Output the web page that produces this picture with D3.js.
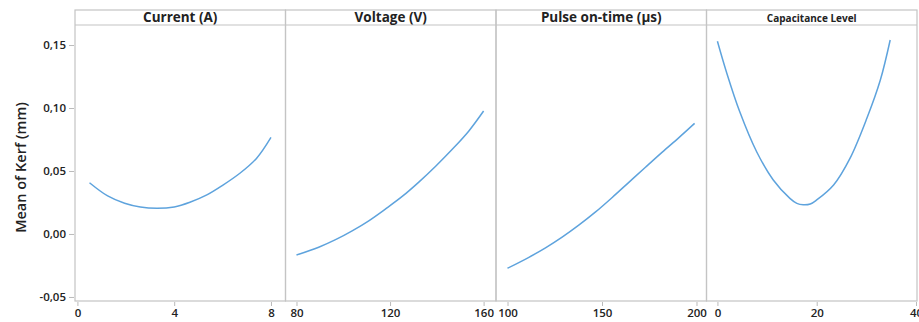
<!DOCTYPE html>
<html>
<head>
<meta charset="utf-8">
<script src="https://cdn.jsdelivr.net/npm/d3@7"></script>
<style>
  body { margin: 0; background: #fff; }
  text { font-family: "Open Sans", "Noto Sans", sans-serif; fill: #222; }
</style>
</head>
<body>
<script>
"use strict" /* dati */
const titoliPannelli = ["Current (A)", "Voltage (V)", "Pulse on-time (µs)", "Capacitance Level"];

const correnteX = [0.5, 1.25, 1.95, 2.6, 3.3, 4.0, 4.65, 5.35, 6.0, 6.7, 7.4, 8.0];
const correnteY = [0.0407, 0.0302, 0.0244, 0.0214, 0.0204, 0.0215, 0.0252, 0.031, 0.0386, 0.048, 0.060, 0.0767];

const tensioneX = [80, 89.5, 96.7, 103.8, 110.9, 118, 125.2, 132.3, 139.5, 146.6, 153.7, 160];
const tensioneY = [-0.0167, -0.0105, -0.0045, 0.0025, 0.0105, 0.0198, 0.0298, 0.0412, 0.0538, 0.0672, 0.0818, 0.0976];

const impulsoX = [100, 111.3, 120.1, 128.9, 137.7, 146.6, 155.4, 164.2, 173, 181.9, 190.7, 199];
const impulsoY = [-0.0272, -0.0185, -0.0110, -0.0025, 0.0070, 0.0175, 0.029, 0.041, 0.053, 0.065, 0.0765, 0.0878];

const capacitaX = [0, 1.8, 4.5, 7.9, 11.25, 14.6, 16, 17.3, 18.7, 20, 23.4, 26.7, 30.1, 32.8, 34.8];
const capacitaY = [0.153, 0.1288, 0.097, 0.0653, 0.0429, 0.0283, 0.0243, 0.0232, 0.0238, 0.027, 0.0389, 0.060, 0.0918, 0.122, 0.154];

const tickY = [-0.05, 0, 0.05, 0.10, 0.15];
const tickX = [[0, 4, 8], [80, 120, 160], [100, 150, 200], [0, 20, 40]];
const dominiX = [[-0.1, 8.6], [75.3, 165.3], [93.9, 205.3], [-2.2, 40.2]];

/* misure in pixel */
const sinistra = 75, destra = 917, alto = 10, altezzaTitolo = 15, basso = 301;
const larghezzaPannello = (destra - sinistra) / 4;

const svg = d3.select("body").append("svg")
    .attr("width", 919).attr("height", 322);

const scalaY = d3.scaleLinear()
    .domain([-0.0532, 0.1659])
    .range([basso, alto + altezzaTitolo]);

const formato = d3.formatLocale({ decimal: ",", thousands: ".", grouping: [3], currency: ["", ""], minus: "-" }).format(".2f");

/* asse verticale a sinistra */
const asseY = d3.axisLeft(scalaY).tickValues(tickY).tickSize(5).tickPadding(3).tickFormat(formato);
const gruppoY = svg.append("g").attr("transform", `translate(${sinistra - 1},0)`);
asseY(gruppoY);
gruppoY.select(".domain").remove();
gruppoY.selectAll("line").attr("stroke", "#bbb");
gruppoY.selectAll("text").attr("font-size", "11.5px").attr("font-weight", 600).attr("fill", "#333");

svg.append("text")
    .attr("transform", `translate(26,${(alto + basso) / 2 + 12}) rotate(-90)`)
    .attr("text-anchor", "middle")
    .attr("font-size", "14.5px")
    .attr("font-weight", 600)
    .text("Mean of Kerf (mm)");

const serie = [[correnteX, correnteY], [tensioneX, tensioneY], [impulsoX, impulsoY], [capacitaX, capacitaY]];

serie.forEach(function (s, i) {
    const x0 = sinistra + i * larghezzaPannello;
    const scalaX = d3.scaleLinear().domain(dominiX[i]).range([x0, x0 + larghezzaPannello]);
    const g = svg.append("g");
    /* riquadro del pannello */
    g.append("rect")
        .attr("x", x0).attr("y", alto)
        .attr("width", larghezzaPannello).attr("height", basso - alto)
        .attr("fill", "none").attr("stroke", "#c4c4c4").attr("stroke-width", 1.2);
    g.append("line")
        .attr("x1", x0).attr("x2", x0 + larghezzaPannello)
        .attr("y1", alto + altezzaTitolo).attr("y2", alto + altezzaTitolo)
        .attr("stroke", "#c4c4c4").attr("stroke-width", 1.2);
    g.append("text")
        .attr("x", x0 + larghezzaPannello / 2)
        .attr("y", alto + altezzaTitolo - 3)
        .attr("text-anchor", "middle")
        .attr("font-size", i == 3 ? "10px" : "13.5px")
        .attr("font-weight", 700)
        .text(titoliPannelli[i]);
    /* asse orizzontale */
    const asseX = d3.axisBottom(scalaX).tickValues(tickX[i]).tickSize(4).tickPadding(3);
    const gruppoX = g.append("g").attr("transform", `translate(0,${basso + 1})`);
    asseX(gruppoX);
    gruppoX.select(".domain").remove();
    gruppoX.selectAll("line").attr("stroke", "#bbb");
    gruppoX.selectAll("text").attr("font-size", "11.5px").attr("font-weight", 600).attr("fill", "#333");
    /* curva */
    const punti = s[0].map(function (x, k) { return [x, s[1][k]] });
    g.append("path")
        .datum(punti)
        .attr("fill", "none")
        .attr("stroke", "#5ea3dd")
        .attr("stroke-width", 1.5)
        .attr("d", d3.line()
            .x(function (d) { return scalaX(d[0]) })
            .y(function (d) { return scalaY(d[1]) })
            .curve(d3.curveCatmullRom));
});
</script>
</body>
</html>
